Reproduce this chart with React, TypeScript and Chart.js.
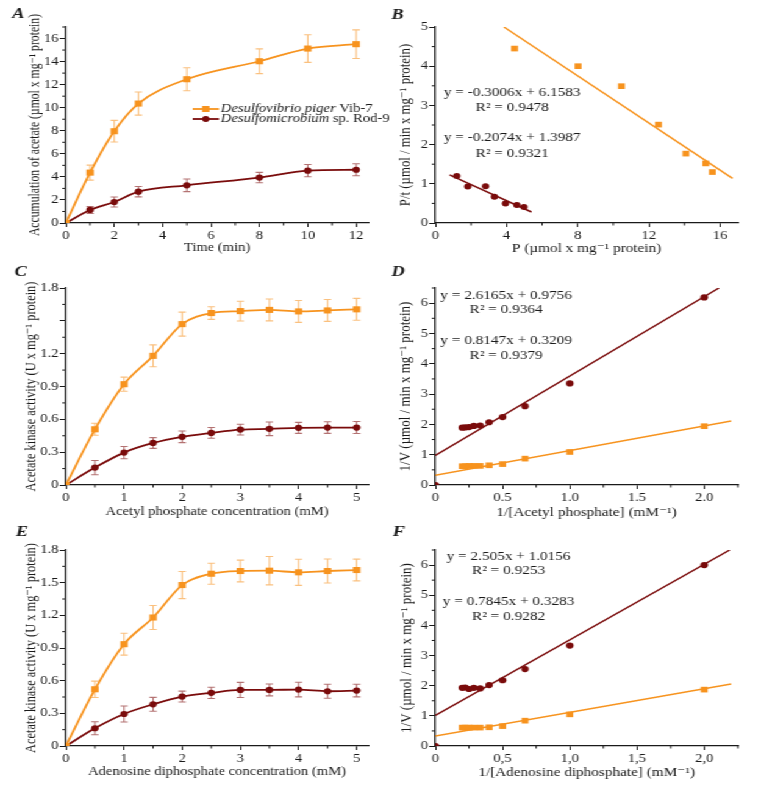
import React, { useEffect, useRef } from "react";
import { Chart, registerables } from "chart.js";
Chart.register(...registerables);

// ---------------- colours / fonts ----------------
const ORANGE = "#F7931E";
const DARKRED = "#7A0B0B";
const ORANGE_ERR = "rgba(246,150,40,0.6)";
const DARKRED_ERR = "rgba(130,20,20,0.6)";
const INK = "#1a1a1a";
const SERIF = '"Liberation Serif", "DejaVu Serif", serif';
const SX = 761 / 624;

// ---------------- Panel A: acetate accumulation ----------------
const timeMin = [0, 1, 2, 3, 5, 8, 10, 12];
const acetatePiger = [0, 4.37, 7.96, 10.36, 12.47, 14.03, 15.13, 15.51];
const acetatePigerErr = [0, 0.65, 0.94, 1.0, 1.0, 1.07, 1.2, 1.24];
const acetateRod = [0, 1.13, 1.82, 2.72, 3.27, 3.94, 4.54, 4.62];
const acetateRodErr = [0, 0.3, 0.43, 0.45, 0.55, 0.45, 0.53, 0.52];
const aXTicks = [0, 2, 4, 6, 8, 10, 12];
const aXLabels = ["0", "2", "4", "6", "8", "10", "12"];
const aYTicks = [0, 2, 4, 6, 8, 10, 12, 14, 16];
const aYLabels = ["0", "2", "4", "6", "8", "10", "12", "14", "16"];

// ---------------- Panel B: P/t vs P ----------------
const bPigerP = [4.45, 8.02, 10.46, 12.54, 14.08, 15.2, 15.57];
const bPigerPt = [4.45, 4.0, 3.49, 2.51, 1.77, 1.52, 1.3];
const bRodP = [1.2, 1.82, 2.82, 3.32, 3.94, 4.58, 4.98];
const bRodPt = [1.2, 0.93, 0.94, 0.67, 0.5, 0.46, 0.41];
const bPigerFitX = [3.85, 16.7];
const bPigerFitY = [5.0, 1.14];
const bRodFitX = [0.8, 5.4];
const bRodFitY = [1.23, 0.28];
const bXTicks = [0, 4, 8, 12, 16];
const bXLabels = ["0", "4", "8", "12", "16"];
const bYTicks = [0, 1, 2, 3, 4, 5];
const bYLabels = ["0", "1", "2", "3", "4", "5"];
const bEquations = ["y = -0.3006x + 6.1583", "R² = 0.9478", "y = -0.2074x + 1.3987", "R² = 0.9321"];

// ---------------- Panel C: acetyl phosphate ----------------
const acetylPhosphate = [0, 0.5, 1, 1.5, 2, 2.5, 3, 3.5, 4, 4.5, 5];
const cPiger = [0, 0.509, 0.921, 1.18, 1.47, 1.571, 1.589, 1.6, 1.586, 1.595, 1.605];
const cPigerErr = [0, 0.055, 0.065, 0.1, 0.11, 0.058, 0.09, 0.1, 0.1, 0.1, 0.1];
const cRod = [0, 0.159, 0.296, 0.384, 0.44, 0.476, 0.506, 0.513, 0.522, 0.525, 0.525];
const cRodErr = [0, 0.065, 0.056, 0.049, 0.053, 0.049, 0.049, 0.062, 0.05, 0.053, 0.055];
const concTicks = [0, 1, 2, 3, 4, 5];
const concLabels = ["0", "1", "2", "3", "4", "5"];
const actTicks = [0, 0.3, 0.6, 0.9, 1.2, 1.5, 1.8];
const cActLabels = ["0", "0.3", "0.6", "0.9", "1.2", "", "1.8"];
const eActLabels = ["0", "0.3", "0.6", "0.9", "1.2", "1.5", "1.8"];

// ---------------- Panel D: Lineweaver-Burk, acetyl phosphate ----------------
const invConc = [2, 1, 0.667, 0.5, 0.4, 0.333, 0.286, 0.25, 0.222, 0.2];
const dRod = [6.19, 3.35, 2.6, 2.24, 2.07, 1.96, 1.95, 1.91, 1.9, 1.89];
const dPiger = [1.94, 1.09, 0.87, 0.69, 0.65, 0.63, 0.63, 0.63, 0.62, 0.62];
const dRodFitX = [0, 2.11];
const dRodFitY = [0.976, 6.5];
const dPigerFitX = [0, 2.2];
const dPigerFitY = [0.321, 2.113];
const lbXTicks = [0, 0.5, 1, 1.5, 2];
const dXLabels = ["0", "0.5", "1.0", "1.5", "2.0"];
const fXLabels = ["0", "0,5", "1,0", "1,5", "2,0"];
const lbYTicks = [0, 1, 2, 3, 4, 5, 6];
const lbYLabels = ["0", "1", "2", "3", "4", "5", "6"];
const dEquations = ["y = 2.6165x + 0.9756", "R² = 0.9364", "y = 0.8147x + 0.3209", "R² = 0.9379"];

// ---------------- Panel E: ADP ----------------
const adpConc = [0, 0.5, 1, 1.5, 2, 2.5, 3, 3.5, 4, 4.5, 5];
const ePiger = [0, 0.521, 0.935, 1.18, 1.478, 1.582, 1.607, 1.61, 1.595, 1.607, 1.616];
const ePigerErr = [0, 0.075, 0.1, 0.11, 0.125, 0.097, 0.1, 0.13, 0.12, 0.11, 0.1];
const eRod = [0, 0.163, 0.294, 0.383, 0.454, 0.488, 0.515, 0.515, 0.518, 0.503, 0.509];
const eRodErr = [0, 0.06, 0.074, 0.064, 0.05, 0.052, 0.069, 0.055, 0.067, 0.064, 0.058];

// ---------------- Panel F: Lineweaver-Burk, ADP ----------------
const invAdp = [2, 1, 0.667, 0.5, 0.4, 0.333, 0.286, 0.25, 0.222, 0.2];
const fRod = [6.0, 3.33, 2.55, 2.18, 2.02, 1.91, 1.93, 1.89, 1.94, 1.93];
const fPiger = [1.87, 1.05, 0.84, 0.66, 0.62, 0.61, 0.61, 0.61, 0.61, 0.61];
const fRodFitX = [0, 2.19];
const fRodFitY = [1.016, 6.5];
const fPigerFitX = [0, 2.2];
const fPigerFitY = [0.328, 2.054];
const fEquations = ["y = 2.505x + 1.0156", "R² = 0.9253", "y = 0.7845x + 0.3283", "R² = 0.9282"];

const legendNames = [
  [{ t: "Desulfovibrio piger", i: true }, { t: " Vib-7", i: false }],
  [{ t: "Desulfomicrobium", i: true }, { t: " sp. Rod-9", i: false }],
];

// ---------------- helpers ----------------
const pts = (xs: number[], ys: number[]) => xs.map((x, i) => ({ x, y: ys[i] }));

const curve = (xs: number[], ys: number[], color: string, square: boolean) => ({
  data: pts(xs, ys),
  showLine: true,
  borderColor: color,
  backgroundColor: color,
  borderWidth: 1.8,
  cubicInterpolationMode: "monotone",
  pointStyle: square ? "rect" : "circle",
  pointRadius: square ? 4.3 : 3.1,
  pointBorderWidth: 0,
});
const markers = (xs: number[], ys: number[], color: string, square: boolean, r: number) => ({
  data: pts(xs, ys),
  showLine: false,
  borderColor: color,
  backgroundColor: color,
  pointStyle: square ? "rect" : "circle",
  pointRadius: r,
  pointBorderWidth: 0,
});
const fitLine = (xs: number[], ys: number[], color: string) => ({
  data: pts(xs, ys),
  showLine: true,
  borderColor: color,
  borderWidth: 1.5,
  pointRadius: 0,
});

type AxisSpec = {
  min: number; max: number; ticks: number[]; labels: string[];
  title: string; titlePad: number; titleSize?: number;
};

function buildScale(a: AxisSpec, horizontal: boolean, size: number) {
  return {
    type: "linear",
    position: horizontal ? "bottom" : "left",
    min: a.min,
    max: a.max,
    afterBuildTicks: (s: any) => {
      s.ticks = a.ticks.map((v) => ({ value: v }));
    },
    afterFit: (s: any) => {
      if (horizontal) s.height = size;
      else s.width = size;
    },
    ticks: {
      autoSkip: false,
      maxRotation: 0,
      padding: horizontal ? 2 : 1,
      color: INK,
      font: { family: SERIF, size: 12 },
      callback: (_v: any, i: number) => a.labels[i],
    },
    grid: {
      display: true,
      drawOnChartArea: false,
      drawTicks: true,
      tickLength: horizontal ? 4 : 5,
      color: INK,
      lineWidth: 1,
    },
    border: { display: true, color: INK, width: 1.3 },
    title: {
      display: true,
      text: a.title,
      color: INK,
      font: { family: SERIF, size: a.titleSize ?? 12 },
      padding: horizontal ? { top: 0, bottom: a.titlePad } : { top: a.titlePad, bottom: 0 },
    },
  };
}

type Spec = {
  left: number; top: number; w: number; h: number;
  padTop: number; padRight: number; yAxisW: number; xAxisH: number;
  x: AxisSpec; y: AxisSpec;
  datasets: any[];
  errors?: { ds: number; err: number[]; color: string }[];
  letter: string; letterX: number; letterY: number;
  texts?: { lines: string[]; cx: number; ys: number[] };
  legend?: { x0: number; x1: number; tx: number; ys: number[] };
};

function minorOf(ticks: number[], max: number) {
  const step = ticks[1] - ticks[0];
  const out: number[] = [];
  ticks.forEach((t) => {
    const m = t + step / 2;
    if (m <= max + 1e-9) out.push(m);
  });
  return out;
}

function decor(spec: Spec) {
  return {
    id: "decor",
    beforeDatasetsDraw(chart: any) {
      const ctx = chart.ctx;
      const ys = chart.scales.y;
      (spec.errors || []).forEach(({ ds, err, color }) => {
        const meta = chart.getDatasetMeta(ds);
        const data = chart.data.datasets[ds].data;
        ctx.save();
        ctx.strokeStyle = color;
        ctx.lineWidth = 1.1;
        meta.data.forEach((p: any, j: number) => {
          const e = err[j];
          if (!e) return;
          const v = data[j].y;
          const y1 = ys.getPixelForValue(v + e);
          const y2 = ys.getPixelForValue(v - e);
          const cap = 3;
          ctx.beginPath();
          ctx.moveTo(p.x, y1); ctx.lineTo(p.x, y2);
          ctx.moveTo(p.x - cap, y1); ctx.lineTo(p.x + cap, y1);
          ctx.moveTo(p.x - cap, y2); ctx.lineTo(p.x + cap, y2);
          ctx.stroke();
        });
        ctx.restore();
      });
    },
    afterDraw(chart: any) {
      const ctx = chart.ctx;
      const xs = chart.scales.x;
      const ys = chart.scales.y;
      ctx.save();
      // minor ticks
      ctx.strokeStyle = INK;
      ctx.lineWidth = 1;
      minorOf(spec.x.ticks, spec.x.max).forEach((v) => {
        const p = xs.getPixelForValue(v);
        ctx.beginPath();
        ctx.moveTo(p, xs.top); ctx.lineTo(p, xs.top + 2.5);
        ctx.stroke();
      });
      minorOf(spec.y.ticks, spec.y.max).forEach((v) => {
        const p = ys.getPixelForValue(v);
        ctx.beginPath();
        ctx.moveTo(ys.right, p); ctx.lineTo(ys.right - 3, p);
        ctx.stroke();
      });
      // panel letter
      ctx.fillStyle = INK;
      ctx.font = `italic bold 15px ${SERIF}`;
      ctx.textAlign = "left";
      ctx.textBaseline = "middle";
      ctx.fillText(spec.letter, spec.letterX, spec.letterY);
      // equations
      if (spec.texts) {
        ctx.font = `12.5px ${SERIF}`;
        ctx.textAlign = "center";
        spec.texts.lines.forEach((t, i) => ctx.fillText(t, spec.texts!.cx, spec.texts!.ys[i]));
      }
      // legend
      if (spec.legend) {
        const L = spec.legend;
        [[ORANGE, true], [DARKRED, false]].forEach(([color, square], i) => {
          const y = L.ys[i];
          ctx.strokeStyle = color as string;
          ctx.fillStyle = color as string;
          ctx.lineWidth = 1.8;
          ctx.beginPath();
          ctx.moveTo(L.x0, y); ctx.lineTo(L.x1, y);
          ctx.stroke();
          const cx = (L.x0 + L.x1) / 2;
          if (square) ctx.fillRect(cx - 3, y - 3, 6, 6);
          else { ctx.beginPath(); ctx.arc(cx, y, 3, 0, Math.PI * 2); ctx.fill(); }
          ctx.fillStyle = INK;
          ctx.textAlign = "left";
          let x = L.tx;
          legendNames[i].forEach((seg) => {
            ctx.font = `${seg.i ? "italic " : ""}12px ${SERIF}`;
            ctx.fillText(seg.t, x, y);
            x += ctx.measureText(seg.t).width;
          });
        });
      }
      ctx.restore();
    },
  };
}

function buildConfig(spec: Spec): any {
  return {
    type: "scatter",
    data: { datasets: spec.datasets },
    options: {
      animation: false,
      responsive: false,
      maintainAspectRatio: false,
      events: [],
      layout: { padding: { left: 0, right: spec.padRight, top: spec.padTop, bottom: 0 } },
      plugins: { legend: { display: false }, tooltip: { enabled: false }, title: { display: false } },
      scales: {
        x: buildScale(spec.x, true, spec.xAxisH),
        y: buildScale(spec.y, false, spec.yAxisW),
      },
    },
    plugins: [decor(spec)],
  };
}

// ---------------- panel specs (design coordinates, stretched by SX) ----------------
const LEFT = { left: 0, w: 330, yAxisW: 54, padRight: 28 };
const RIGHT = { left: 314, w: 310, yAxisW: 43, padRight: 19 };

const specs: Spec[] = [
  {
    ...LEFT, top: 0, h: 262, padTop: 27, xAxisH: 39,
    x: { min: 0, max: 12.5, ticks: aXTicks, labels: aXLabels, title: "Time (min)", titlePad: 6.8 },
    y: { min: 0, max: 17, ticks: aYTicks, labels: aYLabels, title: "Accumulation of acetate (µmol x mg⁻¹ protein)", titlePad: 21.5, titleSize: 11.7 },
    datasets: [
      curve(timeMin, acetatePiger, ORANGE, true),
      curve(timeMin, acetateRod, DARKRED, false),
    ],
    errors: [
      { ds: 0, err: acetatePigerErr, color: ORANGE_ERR },
      { ds: 1, err: acetateRodErr, color: DARKRED_ERR },
    ],
    letter: "A", letterX: 10, letterY: 14,
    legend: { x0: 158, x1: 179.5, tx: 181, ys: [109, 119] },
  },
  {
    ...RIGHT, top: 0, h: 262, padTop: 27, xAxisH: 39,
    x: { min: 0, max: 17, ticks: bXTicks, labels: bXLabels, title: "P (µmol x mg⁻¹ protein)", titlePad: 5.5, titleSize: 12.5 },
    y: { min: 0, max: 5, ticks: bYTicks, labels: bYLabels, title: "P/t (µmol / min x mg⁻¹ protein)", titlePad: 10.5, titleSize: 12.8 },
    datasets: [
      fitLine(bPigerFitX, bPigerFitY, ORANGE),
      fitLine(bRodFitX, bRodFitY, DARKRED),
      markers(bPigerP, bPigerPt, ORANGE, true, 4),
      markers(bRodP, bRodPt, DARKRED, false, 3),
    ],
    letter: "B", letterX: 7, letterY: 15,
    texts: { lines: bEquations, cx: 106, ys: [93, 108, 138, 154] },
  },
  {
    ...LEFT, top: 262, h: 262, padTop: 26, xAxisH: 39,
    x: { min: 0, max: 5.2, ticks: concTicks, labels: concLabels, title: "Acetyl phosphate concentration (mM)", titlePad: 5.1 },
    y: { min: 0, max: 1.8, ticks: actTicks, labels: cActLabels, title: "Acetate kinase activity (U x mg⁻¹ protein)", titlePad: 18.5, titleSize: 12.4 },
    datasets: [
      curve(acetylPhosphate, cPiger, ORANGE, true),
      curve(acetylPhosphate, cRod, DARKRED, false),
    ],
    errors: [
      { ds: 0, err: cPigerErr, color: ORANGE_ERR },
      { ds: 1, err: cRodErr, color: DARKRED_ERR },
    ],
    letter: "C", letterX: 12, letterY: 10,
  },
  {
    ...RIGHT, top: 262, h: 262, padTop: 26, xAxisH: 39,
    x: { min: 0, max: 2.25, ticks: lbXTicks, labels: dXLabels, title: "1/[Acetyl phosphate] (mM⁻¹)", titlePad: 3.5, titleSize: 12.5 },
    y: { min: 0, max: 6.5, ticks: lbYTicks, labels: lbYLabels, title: "1/V (µmol / min x mg⁻¹ protein)", titlePad: 10.5, titleSize: 13 },
    datasets: [
      fitLine(dRodFitX, dRodFitY, DARKRED),
      fitLine(dPigerFitX, dPigerFitY, ORANGE),
      markers(invConc, dRod, DARKRED, false, 3.1),
      markers(invConc, dPiger, ORANGE, true, 4),
      markers([0], [0], DARKRED, false, 3.1),
    ],
    letter: "D", letterX: 7, letterY: 10,
    texts: { lines: dEquations, cx: 101, ys: [34, 48, 79, 94] },
  },
  {
    ...LEFT, top: 524, h: 271, padTop: 26, xAxisH: 49,
    x: { min: 0, max: 5.2, ticks: concTicks, labels: concLabels, title: "Adenosine diphosphate concentration (mM)", titlePad: 16.1 },
    y: { min: 0, max: 1.8, ticks: actTicks, labels: eActLabels, title: "Acetate kinase activity (U x mg⁻¹ protein)", titlePad: 18.5, titleSize: 12.4 },
    datasets: [
      curve(adpConc, ePiger, ORANGE, true),
      curve(adpConc, eRod, DARKRED, false),
    ],
    errors: [
      { ds: 0, err: ePigerErr, color: ORANGE_ERR },
      { ds: 1, err: eRodErr, color: DARKRED_ERR },
    ],
    letter: "E", letterX: 13, letterY: 8,
  },
  {
    ...RIGHT, top: 524, h: 271, padTop: 26, xAxisH: 49,
    x: { min: 0, max: 2.25, ticks: lbXTicks, labels: fXLabels, title: "1/[Adenosine diphosphate] (mM⁻¹)", titlePad: 14.5, titleSize: 12.5 },
    y: { min: 0, max: 6.5, ticks: lbYTicks, labels: lbYLabels, title: "1/V (µmol / min x mg⁻¹ protein)", titlePad: 12, titleSize: 13 },
    datasets: [
      fitLine(fRodFitX, fRodFitY, DARKRED),
      fitLine(fPigerFitX, fPigerFitY, ORANGE),
      markers(invAdp, fRod, DARKRED, false, 3.1),
      markers(invAdp, fPiger, ORANGE, true, 4),
      markers([0], [0], DARKRED, false, 3.1),
    ],
    letter: "F", letterX: 8, letterY: 8,
    texts: { lines: fEquations, cx: 103, ys: [33, 47, 78, 93] },
  },
];

function Panel({ spec }: { spec: Spec }) {
  const ref = useRef<HTMLCanvasElement>(null);
  useEffect(() => {
    if (!ref.current) return;
    const chart = new Chart(ref.current, buildConfig(spec));
    return () => chart.destroy();
  }, [spec]);
  return (
    <canvas
      ref={ref}
      width={spec.w}
      height={spec.h}
      style={{ position: "absolute", left: spec.left, top: spec.top, width: spec.w, height: spec.h }}
    />
  );
}

export default function App() {
  return (
    <div
      style={{
        position: "absolute",
        left: 0,
        top: 0,
        width: 624,
        height: 795,
        background: "#ffffff",
        transform: `scaleX(${SX})`,
        transformOrigin: "0 0",
      }}
    >
      {specs.map((s, i) => (
        <Panel key={i} spec={s} />
      ))}
    </div>
  );
}
